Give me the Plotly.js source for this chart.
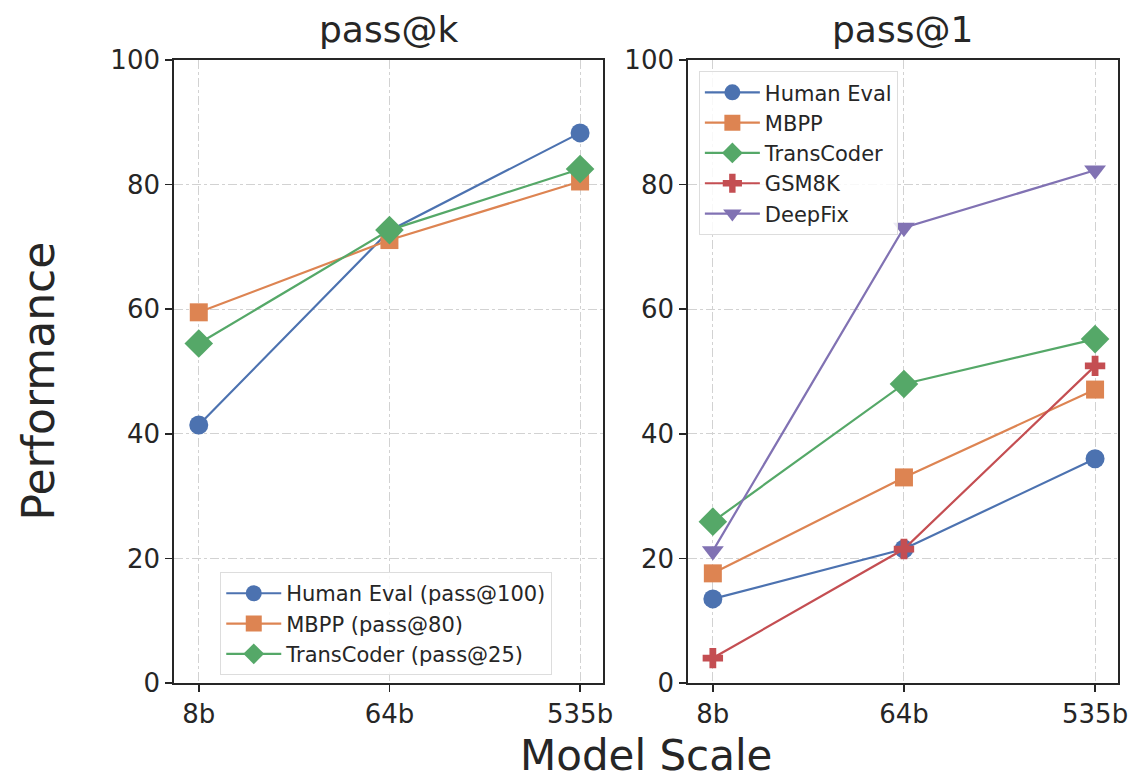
<!DOCTYPE html>
<html>
<head>
<meta charset="utf-8">
<script src="https://cdn.plot.ly/plotly-3.0.1.min.js"></script>
<style>html,body{margin:0;padding:0;background:#fff;}#chart{width:1145px;height:783px;}</style>
</head>
<body>
<div id="chart"></div>
<script>
const scales = ["8b", "64b", "535b"];

// pass@k panel
const passkHumanEval = [41.4, 72.6, 88.3];
const passkMBPP = [59.5, 71.1, 80.5];
const passkTransCoder = [54.5, 72.7, 82.5];

// pass@1 panel
const pass1HumanEval = [13.5, 21.5, 36.0];
const pass1MBPP = [17.6, 33.0, 47.1];
const pass1TransCoder = [25.9, 48.0, 55.2];
const pass1GSM8K = [4.0, 21.5, 50.9];
const pass1DeepFix = [21.2, 73.1, 82.3];

const C = {blue:"#4C72B0", orange:"#DD8452", green:"#55A868", red:"#C44E52", purple:"#8172B3"};
const xi = scales.map((_, i) => i);

function tr(name, y, color, symbol, xa, ya, legend, size) {
  return {
    x: xi, y: y, name: name, type: "scatter", mode: "lines+markers",
    xaxis: xa, yaxis: ya, legend: legend, cliponaxis: false,
    line: {color: color, width: 2.2},
    marker: {color: color, symbol: symbol, size: size || 19, line: {width: 0}}
  };
}

const data = [
  tr("Human Eval (pass@100)", passkHumanEval, C.blue, "circle", "x", "y", "legend"),
  tr("MBPP (pass@80)", passkMBPP, C.orange, "square", "x", "y", "legend", 18),
  tr("TransCoder (pass@25)", passkTransCoder, C.green, "diamond", "x", "y", "legend", 22),
  tr("Human Eval", pass1HumanEval, C.blue, "circle", "x2", "y2", "legend2"),
  tr("MBPP", pass1MBPP, C.orange, "square", "x2", "y2", "legend2", 18),
  tr("TransCoder", pass1TransCoder, C.green, "diamond", "x2", "y2", "legend2", 22),
  tr("GSM8K", pass1GSM8K, C.red, "cross", "x2", "y2", "legend2", 17),
  tr("DeepFix", pass1DeepFix, C.purple, "triangle-down", "x2", "y2", "legend2", 19)
];

const TXT = "#262626";
function xax(domain, anchor) {
  return {
    domain: domain, anchor: anchor, range: [-0.13, 2.12],
    tickmode: "array", tickvals: xi, ticktext: scales,
    showline: true, mirror: true, linecolor: TXT, linewidth: 1.8,
    ticks: "outside", ticklen: 7, tickwidth: 1.5, tickcolor: TXT,
    showgrid: true, gridcolor: "#d2d2d2", gridwidth: 1, griddash: "dashdot",
    zeroline: false, tickfont: {family: "DejaVu Sans", size: 26, color: TXT}
  };
}
function yax(anchor) {
  return {
    anchor: anchor, domain: [0, 1], range: [0, 100], tickvals: [0, 20, 40, 60, 80, 100],
    showline: true, mirror: true, linecolor: TXT, linewidth: 1.8,
    ticks: "outside", ticklen: 7, tickwidth: 1.5, tickcolor: TXT,
    showgrid: true, gridcolor: "#d2d2d2", gridwidth: 1, griddash: "dashdot",
    zeroline: false, tickfont: {family: "DejaVu Sans", size: 26, color: TXT}
  };
}

const layout = {
  width: 1145, height: 783,
  margin: {l: 174, r: 27, t: 60, b: 100},
  paper_bgcolor: "#ffffff", plot_bgcolor: "#ffffff",
  font: {family: "DejaVu Sans", color: TXT},
  showlegend: true,
  xaxis: xax([0, 0.4544], "y"),
  yaxis: yax("x"),
  xaxis2: xax([0.5445, 1], "y2"),
  yaxis2: yax("x2"),
  legend: {
    x: 0.049, y: 0.178, xanchor: "left", yanchor: "top",
    bgcolor: "rgba(255,255,255,0.85)", bordercolor: "#dddddd", borderwidth: 1,
    font: {family: "DejaVu Sans", size: 21, color: TXT},
    itemwidth: 55, tracegroupgap: 0
  },
  legend2: {
    x: 0.556, y: 0.982, xanchor: "left", yanchor: "top",
    bgcolor: "rgba(255,255,255,0.85)", bordercolor: "#dddddd", borderwidth: 1,
    font: {family: "DejaVu Sans", size: 21, color: TXT},
    itemwidth: 55, tracegroupgap: 0
  },
  annotations: [
    {text: "pass@k", xref: "paper", yref: "paper", x: 0.2272, y: 1, yshift: 8, xanchor: "center", yanchor: "bottom", showarrow: false, font: {family: "DejaVu Sans", size: 36, color: TXT}},
    {text: "pass@1", xref: "paper", yref: "paper", x: 0.7722, y: 1, yshift: 8, xanchor: "center", yanchor: "bottom", showarrow: false, font: {family: "DejaVu Sans", size: 36, color: TXT}},
    {text: "Model Scale", xref: "paper", yref: "paper", x: 0.5, y: 0, yshift: -99, xanchor: "center", yanchor: "bottom", showarrow: false, font: {family: "DejaVu Sans", size: 42, color: TXT}},
    {text: "Performance", xref: "paper", yref: "paper", x: 0, xshift: -136, y: 0.5, yshift: -10, xanchor: "center", yanchor: "middle", textangle: -90, showarrow: false, font: {family: "DejaVu Sans", size: 44, color: TXT}}
  ]
};

Plotly.newPlot("chart", data, layout, {displayModeBar: false, staticPlot: true});
</script>
</body>
</html>
